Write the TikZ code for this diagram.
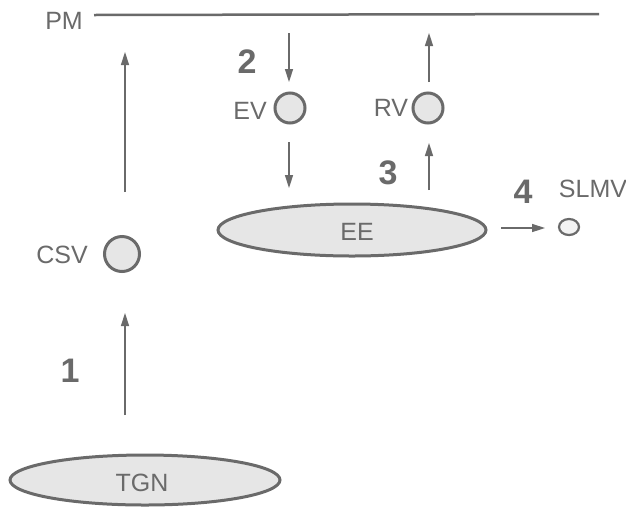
\documentclass[tikz,border=0pt]{standalone}
\usepackage{fontspec}
\setmainfont{Liberation Sans}
\usetikzlibrary{arrows.meta,shapes.geometric}
\definecolor{ink}{HTML}{6A6A6A}
\definecolor{fillg}{HTML}{E6E6E6}
\tikzset{
  lbl/.style={text=ink, font=\fontsize{25}{27}\selectfont, inner sep=0pt},
  num/.style={text=ink, font=\fontsize{34}{36}\selectfont\bfseries, inner sep=0pt},
  blob/.style={ellipse, draw=ink, line width=3pt, fill=fillg, inner sep=0pt},
  ves/.style={circle, draw=ink, line width=3pt, fill=fillg, inner sep=0pt},
  arr/.style={draw=ink, line width=1.5pt, -{Triangle[length=13pt,width=8pt]}},
}
\begin{document}
\begin{tikzpicture}[x=1pt,y=-1pt]
\useasboundingbox[fill=white] (0,0) rectangle (626,507);
% plasma membrane
\node[lbl] (pm) at (64,21) {PM};
\coordinate (pmL) at (94,15);
\coordinate (pmR) at (599,14);
\draw[draw=ink, line width=2.5pt] (pmL) -- (pmR);
% TGN and CSV
\node[blob, minimum width=270pt, minimum height=50pt] (tgn) at (145,480) {};
\node[lbl] (tgnt) at (142,483) {TGN};
\node[ves, minimum size=35pt] (csv) at (122,254) {};
\node[lbl] (csvt) at (62,255) {CSV};
\node[num] (n1) at (70,371) {1};
\coordinate (a1s) at (125,415);
\coordinate (a1e) at (125,313);
\draw[arr] (a1s) -- (a1e);
\coordinate (a0s) at (125,192);
\coordinate (a0e) at (125,52);
\draw[arr] (a0s) -- (a0e);
% endocytosis
\node[num] (n2) at (247,62) {2};
\node[ves, minimum size=30pt] (ev) at (290,108) {};
\node[lbl] (evt) at (250,111) {EV};
\coordinate (a2s) at (289,33);
\coordinate (a2e) at (289,82);
\draw[arr] (a2s) -- (a2e);
\coordinate (a3s) at (289,142);
\coordinate (a3e) at (289,188);
\draw[arr] (a3s) -- (a3e);
% early endosome
\node[blob, minimum width=268pt, minimum height=52pt] (ee) at (352,230) {};
\node[lbl] (eet) at (357,232) {EE};
% recycling
\node[num] (n3) at (388,173) {3};
\node[ves, minimum size=30pt] (rv) at (428,108) {};
\node[lbl] (rvt) at (391,108) {RV};
\coordinate (a4s) at (429,190);
\coordinate (a4e) at (429,143);
\draw[arr] (a4s) -- (a4e);
\coordinate (a5s) at (429,82);
\coordinate (a5e) at (429,33);
\draw[arr] (a5s) -- (a5e);
% SLMV
\node[num] (n4) at (523,192) {4};
\node[lbl] (slmvt) at (593,189) {SLMV};
\node[ves, line width=2.2pt, fill=white!92!ink, minimum width=20pt, minimum height=16pt, ellipse] (slmv) at (569,227) {};
\coordinate (a6s) at (501,228);
\coordinate (a6e) at (545,228);
\draw[arr] (a6s) -- (a6e);
\end{tikzpicture}
\end{document}
